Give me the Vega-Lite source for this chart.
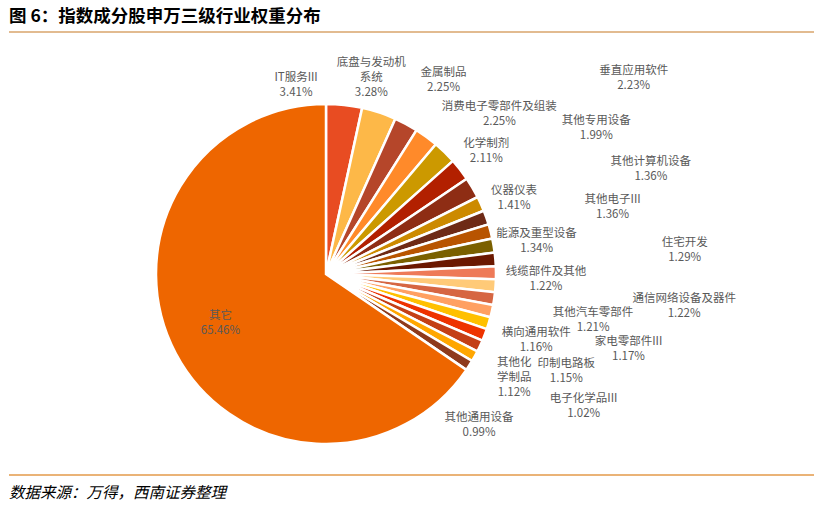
{
  "$schema": "https://vega.github.io/schema/vega-lite/v6.json",
  "width": 821,
  "height": 507,
  "autosize": {"type": "fit", "contains": "padding"},
  "padding": {"left": 8, "right": 6, "top": 7, "bottom": 5},
  "background": "white",
  "title": {
    "text": "图 6：指数成分股申万三级行业权重分布",
    "anchor": "start",
    "frame": "group",
    "font": "Noto Sans CJK SC",
    "fontSize": 17.5,
    "fontWeight": "bold",
    "color": "#000000",
    "offset": 6
  },
  "config": {"view": {"stroke": null}},
  "layer": [
    {
      "data": {
        "values": [
          {"industry": "IT服务III", "weight": 3.41},
          {"industry": "底盘与发动机\n系统", "weight": 3.28},
          {"industry": "金属制品", "weight": 2.25},
          {"industry": "消费电子零部件及组装", "weight": 2.25},
          {"industry": "垂直应用软件", "weight": 2.23},
          {"industry": "化学制剂", "weight": 2.11},
          {"industry": "其他专用设备", "weight": 1.99},
          {"industry": "仪器仪表", "weight": 1.41},
          {"industry": "其他计算机设备", "weight": 1.36},
          {"industry": "其他电子III", "weight": 1.36},
          {"industry": "能源及重型设备", "weight": 1.34},
          {"industry": "住宅开发", "weight": 1.29},
          {"industry": "线缆部件及其他", "weight": 1.22},
          {"industry": "通信网络设备及器件", "weight": 1.22},
          {"industry": "其他汽车零部件", "weight": 1.21},
          {"industry": "家电零部件III", "weight": 1.17},
          {"industry": "横向通用软件", "weight": 1.16},
          {"industry": "印制电路板", "weight": 1.15},
          {"industry": "其他化\n学制品", "weight": 1.12},
          {"industry": "电子化学品III", "weight": 1.02},
          {"industry": "其他通用设备", "weight": 0.99},
          {"industry": "其它", "weight": 65.46}
        ]
      },
      "transform": [
        {"window": [{"op": "row_number", "as": "idx"}]},
        {"calculate": "datum.industry + '\\n' + format(datum.weight, '.2f') + '%'", "as": "label"}
      ],
      "encoding": {
        "theta": {"field": "weight", "type": "quantitative", "stack": true},
        "order": {"field": "idx", "type": "quantitative"},
        "color": {
          "field": "industry",
          "type": "nominal",
          "sort": null,
          "legend": null,
          "scale": {
            "range": ["#E84C22", "#FDB848", "#B5462A", "#FF8A2A", "#CC9900", "#B22000", "#8E2D14", "#CC8A00", "#6E2A16", "#B85400", "#7A6000", "#6B1800", "#EE7A58", "#FFCA78", "#D66642", "#FFA062", "#FFC000", "#EE3300", "#C43F16", "#FFA600", "#8E3A1C", "#EE6600"]
          }
        }
      },
      "layer": [
        {
          "mark": {"type": "arc", "outerRadius": 170, "stroke": "white", "strokeWidth": 2.5, "x": 317, "y": 242}
        },
        {
          "mark": {
            "type": "text",
            "x": 317,
            "y": 242,
            "font": "Noto Sans CJK SC",
            "fontSize": 11.5,
            "lineBreak": "\n",
            "lineHeight": 15,
            "align": "center",
            "baseline": "middle",
            "dx": {"expr": "[-51,-24,10,51,110,-7,11,5,7,0,-26,0,0,0,0,0,14,6,-2,31,-72,-26][datum.idx - 1]"}
          },
          "encoding": {
            "text": {"field": "label"},
            "radius": {"value": {"expr": "[197,222,228,207,283,212,301,201,337,296,240,360,220,359,270,310,205,251,210,259,267,90][datum.idx - 1]"}},
            "color": {"value": "#595959"}
          }
        }
      ]
    },
    {
      "data": {"values": [{}]},
      "mark": {"type": "rule", "color": "#D9A46B", "strokeWidth": 1.5},
      "encoding": {"x": {"value": 0}, "x2": {"value": "width"}, "y": {"value": 0}}
    },
    {
      "data": {"values": [{}]},
      "mark": {"type": "rule", "color": "#E39A4A", "strokeWidth": 1.5},
      "encoding": {"x": {"value": 0}, "x2": {"value": "width"}, "y": {"value": "height"}}
    },
    {
      "data": {"values": [{"note": "数据来源：万得，西南证券整理"}]},
      "mark": {"type": "text", "align": "left", "baseline": "middle", "dy": 18, "font": "Noto Sans CJK SC", "fontSize": 15.5, "fontStyle": "italic", "color": "#000000"},
      "encoding": {"text": {"field": "note"}, "x": {"value": 0}, "y": {"value": "height"}}
    }
  ]
}
